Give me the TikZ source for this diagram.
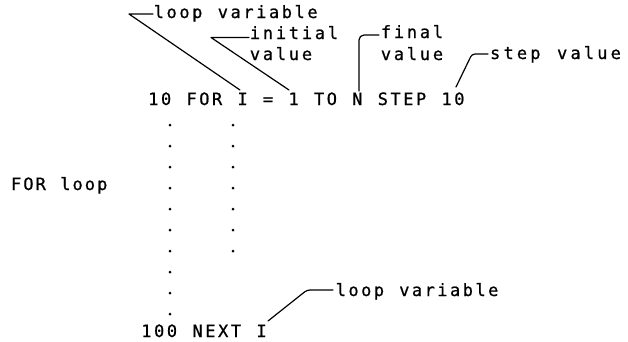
\documentclass[tikz,border=0pt]{standalone}
\usepackage{fontspec}
\newfontfamily\plotfont[FakeBold=0.8]{DejaVu Sans Mono}
\newlength\cpitch
\def\monoend{\monoend}
\def\monoaux#1{\ifx#1\monoend\else\makebox[\cpitch][c]{#1}\expandafter\monoaux\fi}
\newcommand\monotext[2]{\setlength\cpitch{#1pt}\monoaux#2\monoend}
\begin{document}
\begin{tikzpicture}[x=1pt,y=-1pt,
  txt/.style={anchor=base west,inner sep=0pt,outer sep=0pt,font=\plotfont\fontsize{17}{21}\selectfont},
  leader/.style={line width=1.2pt,line cap=round,line join=round},
  dotmark/.style={circle,fill=black,inner sep=0pt,minimum size=3pt}]
\useasboundingbox (0,0) rectangle (628,341);
% program lines
\node[txt] (stmt) at (147,105) {\monotext{12.75}{10~FOR~I~=~1~TO~N~STEP~10}};
\node[txt] (next) at (140,337) {\monotext{12.8}{100~NEXT~I}};
\node[txt] (forloop) at (10,190) {\monotext{12.3}{FOR~loop}};
% labels
\node[txt] (lvtop) at (152.5,18) {\monotext{12.8}{loop~variable}};
\node[txt] (init) at (248.5,39) {\monotext{13}{initial}};
\node[txt] (initv) at (248.5,60) {\monotext{13}{value}};
\node[txt] (fin) at (379.5,38) {\monotext{13}{final}};
\node[txt] (finv) at (379.5,60) {\monotext{13}{value}};
\node[txt] (stepv) at (488.5,59) {\monotext{13.4}{step~value}};
\node[txt] (lvbot) at (334.5,296) {\monotext{12.7}{loop~variable}};
% leader anchor coordinates
\coordinate (pI) at (240,90);
\coordinate (p1) at (289,90);
\coordinate (pN) at (359,91);
\coordinate (p10) at (456,87);
\coordinate (pI2) at (268,321);
\coordinate (c1) at (129,14);
\coordinate (e1) at (153,14);
\coordinate (c2) at (211,37.5);
\coordinate (e2) at (249,37.5);
\coordinate (c3) at (359,35);
\coordinate (e3) at (379,35);
\coordinate (c4) at (472,54);
\coordinate (e4) at (488,54);
\coordinate (c5) at (307,290);
\coordinate (e5) at (333,290);
% leaders
\draw[leader] (pI) -- (c1) -- (e1);
\draw[leader] (p1) -- (c2) -- (e2);
\draw[leader,rounded corners=5pt] (pN) -- (c3) -- (e3);
\draw[leader,rounded corners=3pt] (p10) -- (c4) -- (e4);
\draw[leader,rounded corners=3pt] (pI2) -- (c5) -- (e5);
% dots
\foreach \y [count=\i] in {125,146,167,188,209,230,251,272,293,314}
  \node[dotmark] (dl\i) at (170,\y) {};
\foreach \y [count=\i] in {125,146,167,188,209,230,251}
  \node[dotmark] (dr\i) at (233,\y) {};
\end{tikzpicture}
\end{document}
